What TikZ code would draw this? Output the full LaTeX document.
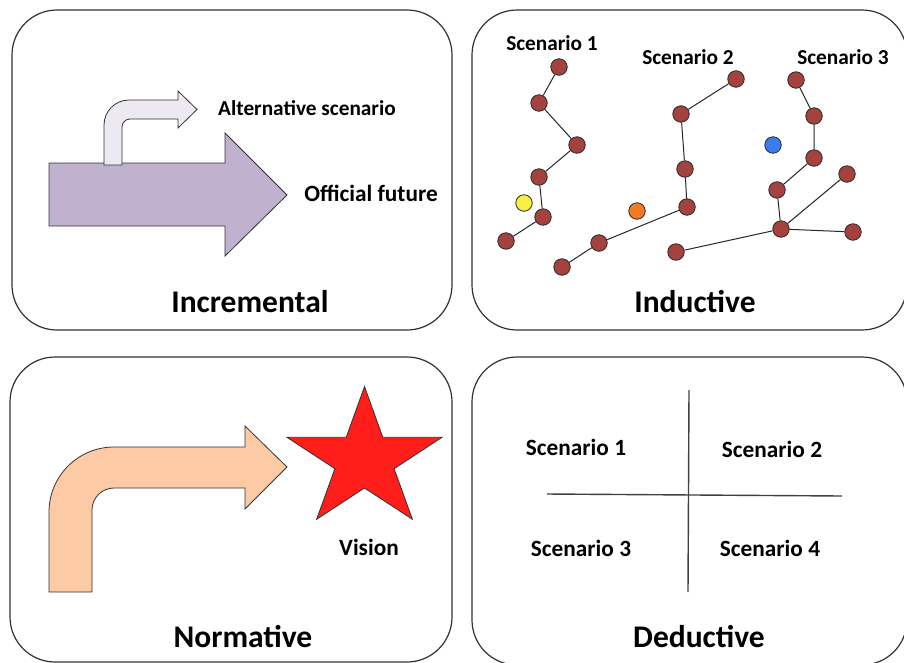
\documentclass[tikz,border=0pt]{standalone}
\usepackage{fontspec}
\setmainfont{Carlito}
\usepackage{tikz}
\usetikzlibrary{positioning}
\definecolor{panelline}{RGB}{50,50,50}
\definecolor{lilac}{RGB}{192,177,207}
\definecolor{palelilac}{RGB}{237,233,242}
\definecolor{peach}{RGB}{252,203,166}
\definecolor{starred}{RGB}{255,30,26}
\definecolor{dotred}{RGB}{163,66,62}
\definecolor{dotyellow}{RGB}{248,240,64}
\definecolor{dotorange}{RGB}{242,122,36}
\definecolor{dotblue}{RGB}{58,124,236}

\begin{document}
\begin{tikzpicture}[x=1pt, y=-1pt,
    panel/.style={draw=panelline, line width=1.2pt, rounded corners=45pt},
    title/.style={font=\fontsize{31.5}{31.5}\bfseries\selectfont},
    lbl/.style={font=\fontsize{21.3}{21.3}\bfseries\selectfont},
    qlbl/.style={font=\fontsize{23.3}{23.3}\bfseries\selectfont},
    shape arrow/.style={draw=black!80, line width=0.8pt, line join=miter},
    dot/.style={circle, draw=black!85, line width=0.8pt, fill=dotred, minimum size=16.5pt, inner sep=0pt},
    link/.style={draw=black!85, line width=1pt},
    axis/.style={draw=black!75, line width=1.4pt}]
    \useasboundingbox (0,0) rectangle (904,662);

    % four panels
    \draw[panel] (12,10) rectangle (452,330);
    \draw[panel] (472,10) rectangle (907,330);
    \draw[panel] (10,357) rectangle (452,662);
    \draw[panel] (472,357) rectangle (907,665);

    % incremental
    \draw[shape arrow, fill=lilac] (49,163) -- (225,163) -- (225,133) -- (287,195)
        -- (225,256) -- (225,226) -- (49,226) -- cycle;
    \draw[shape arrow, fill=palelilac] (104,165) -- (104,125) arc (180:270:25)
        -- (178,100) -- (178,91) -- (197,109.5) -- (178,128) -- (178,119)
        -- (130,119) arc (270:180:8) -- (122,165) -- cycle;
    \node[lbl] (alt) at (307,108) {Alternative scenario};
    \node[qlbl] (official) at (371,193) {Official future};
    \node[title] (incr) at (250,302) {Incremental};

    % inductive
    \node[lbl] (sc1) at (552,43) {Scenario 1};
    \node[lbl] (sc2) at (688,57) {Scenario 2};
    \node[lbl] (sc3) at (843,57) {Scenario 3};
    \foreach \name/\x/\y in {a1/559/67, a2/539/103, a3/577/145, a4/539/177, a5/543/217, a6/506/241,
        b1/736/79, b2/681/114, b3/685/169, b4/687/207, b5/599/243, b6/562/267,
        c1/796/80, c2/814/116, c3/814/158, c4/777/190, c5/781/229, c6/847/174, c7/853/232, c8/676/252}
        \node[dot] (\name) at (\x,\y) {};
    \node[dot, fill=dotyellow] (ylw) at (524,203) {};
    \node[dot, fill=dotorange] (org) at (637,211) {};
    \node[dot, fill=dotblue] (blu) at (773,145) {};
    \draw[link] (a1) -- (a2) -- (a3) -- (a4) -- (a5) -- (a6);
    \draw[link] (b1) -- (b2) -- (b3) -- (b4) -- (b5) -- (b6);
    \draw[link] (c1) -- (c2) -- (c3) -- (c4) -- (c5);
    \draw[link] (c5) -- (c6);
    \draw[link] (c5) -- (c7);
    \draw[link] (c5) -- (c8);
    \node[title] (induct) at (695,302) {Inductive};

    % normative
    \draw[shape arrow, fill=peach] (49,592) -- (49,512) arc (180:270:65)
        -- (245,447) -- (245,426) -- (287,467) -- (245,509) -- (245,488)
        -- (114,488) arc (270:180:22) -- (92,592) -- cycle;
    \draw[shape arrow, fill=starred] (364.5,386.6) -- (382.8,437.3) -- (442,437.3)
        -- (394.1,468.7) -- (412.4,519.3) -- (364.5,488) -- (316.6,519.3)
        -- (334.9,468.7) -- (287,437.3) -- (346.2,437.3) -- cycle;
    \node[qlbl] (vision) at (369,547) {Vision};
    \node[title] (norm) at (243,637) {Normative};

    % deductive
    \coordinate (vtop) at (689,390);
    \coordinate (vbot) at (688,592);
    \coordinate (hleft) at (547,494);
    \coordinate (hright) at (842,496);
    \draw[axis] (vtop) -- (vbot);
    \draw[axis] (hleft) -- (hright);
    \node[qlbl] (q1) at (576,447) {Scenario 1};
    \node[qlbl] (q2) at (772,449) {Scenario 2};
    \node[qlbl] (q3) at (581,548) {Scenario 3};
    \node[qlbl] (q4) at (770,548) {Scenario 4};
    \node[title] (deduct) at (699,637) {Deductive};
\end{tikzpicture}
\end{document}
